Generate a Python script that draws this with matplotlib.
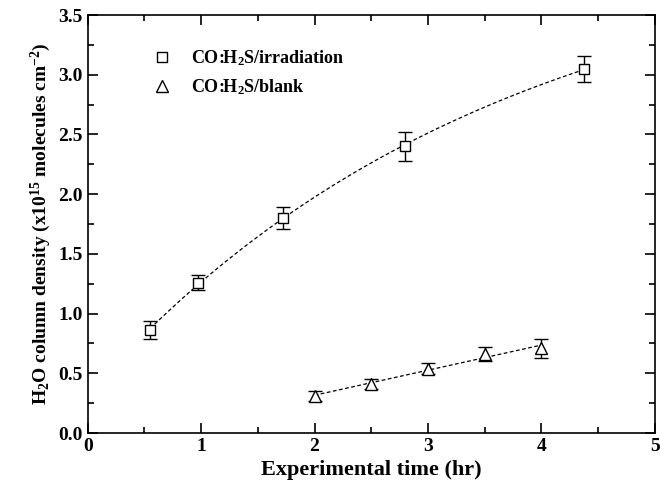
import numpy as np
import matplotlib
matplotlib.use('Agg')
import matplotlib.pyplot as plt
from matplotlib.ticker import MultipleLocator, FormatStrFormatter
from matplotlib.lines import Line2D

plt.rcParams['font.family'] = 'Liberation Serif'
plt.rcParams['font.weight'] = 'bold'
plt.rcParams['mathtext.fontset'] = 'custom'
plt.rcParams['mathtext.rm'] = 'Liberation Serif:bold'
plt.rcParams['mathtext.it'] = 'Liberation Serif:italic:bold'
plt.rcParams['mathtext.bf'] = 'Liberation Serif:bold'

# irradiation data
t_irr = [0.55, 0.97, 1.72, 2.80, 4.38]
y_irr = [0.86, 1.26, 1.80, 2.40, 3.05]
e_irr = [0.075, 0.065, 0.09, 0.12, 0.11]

# blank data
t_blk = [2.0, 2.5, 3.0, 3.5, 4.0]
y_blk = [0.31, 0.41, 0.54, 0.66, 0.71]
e_blk = [0.04, 0.045, 0.05, 0.06, 0.08]

fig = plt.figure(figsize=(6.6, 5), dpi=100)
ax = fig.add_axes([0.133, 0.134, 0.859, 0.836])

ax.errorbar(t_irr, y_irr, yerr=e_irr, fmt='s', mfc='white', mec='black', ms=7,
            ecolor='black', elinewidth=1, capsize=5, mew=1)
ax.errorbar(t_blk, y_blk, yerr=e_blk, fmt='^', mfc='white', mec='black', ms=8,
            ecolor='black', elinewidth=1, capsize=5, mew=1)

# saturating exponential fit: y = a + b*exp(-k t)
t = np.array(t_irr)
y = np.array(y_irr)
best = None
for k in np.linspace(0.05, 2, 400):
    A = np.column_stack([np.ones_like(t), np.exp(-k * t)])
    coef, res, _, _ = np.linalg.lstsq(A, y, rcond=None)
    r = np.sum((A @ coef - y) ** 2)
    if best is None or r < best[0]:
        best = (r, k, coef)
_, k, coef = best
xx = np.linspace(t_irr[0], t_irr[-1], 100)
ax.plot(xx, coef[0] + coef[1] * np.exp(-k * xx), color='black', lw=0.9, dashes=(3, 2))

p2 = np.polyfit(t_blk, y_blk, 1)
xx2 = np.linspace(t_blk[0], t_blk[-1], 50)
ax.plot(xx2, np.polyval(p2, xx2), color='black', lw=0.9, dashes=(3, 2))

ax.set_xlim(0, 5)
ax.set_ylim(0, 3.5)
ax.xaxis.set_major_locator(MultipleLocator(1))
ax.xaxis.set_minor_locator(MultipleLocator(0.5))
ax.yaxis.set_major_locator(MultipleLocator(0.5))
ax.yaxis.set_minor_locator(MultipleLocator(0.25))
ax.yaxis.set_major_formatter(FormatStrFormatter('%.1f'))
ax.tick_params(which='both', direction='in', top=True, right=True, labelsize=14, width=1.2)
ax.tick_params(which='major', length=7)
ax.tick_params(which='minor', length=4)
for s in ax.spines.values():
    s.set_linewidth(1.2)

ax.set_xlabel('Experimental time (hr)', fontsize=16, fontweight='bold')
ax.set_ylabel(r'H$_2$O column density (x10$^{15}$ molecules cm$^{-2}$)', fontsize=14, fontweight='bold')

handles = [Line2D([], [], ls='none', marker='s', mfc='white', mec='black', ms=7),
           Line2D([], [], ls='none', marker='^', mfc='white', mec='black', ms=8)]
ax.legend(handles, [r'CO:H$_2$S/irradiation', r'CO:H$_2$S/blank'], loc='upper left',
          bbox_to_anchor=(0.07, 0.96), frameon=False, fontsize=13,
          handletextpad=0.6, labelspacing=0.55)

fig.savefig('out.png')
